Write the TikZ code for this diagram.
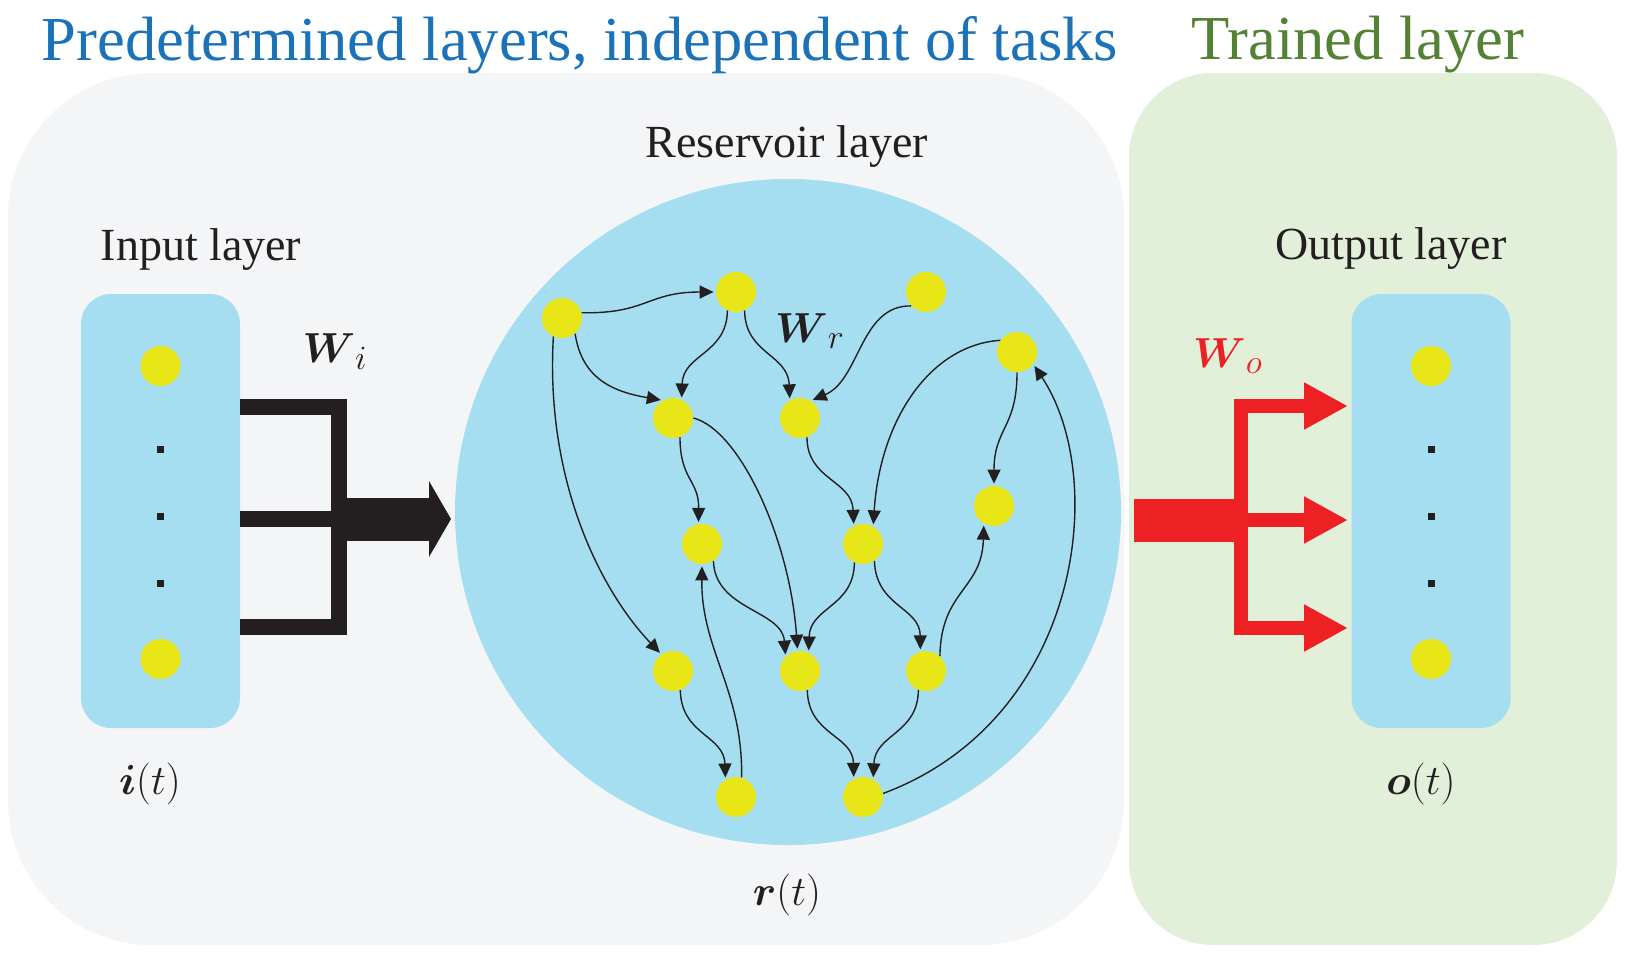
\RequirePackage{fix-cm}
\documentclass[tikz,border=0pt]{standalone}
\usepackage{amsmath}
\usepackage{fontspec}
\setmainfont{Liberation Serif}
\usetikzlibrary{arrows.meta}
\DeclareMathSizes{21}{21}{17}{12}

\definecolor{panelgray}{HTML}{F4F5F7}
\definecolor{panelgreen}{HTML}{E2EFD9}
\definecolor{layerblue}{HTML}{A6DEF1}
\definecolor{unityellow}{HTML}{E8E617}
\definecolor{titleblue}{HTML}{1B72B9}
\definecolor{titlegreen}{HTML}{548235}
\definecolor{wred}{HTML}{ED2024}
\definecolor{wblack}{HTML}{231F20}

\begin{document}
\begin{tikzpicture}[x=0.5pt,y=-0.5pt,
  unit/.style={circle,fill=unityellow,inner sep=0pt,minimum size=20pt},
  dotmark/.style={rectangle,fill=wblack,inner sep=0pt,minimum size=3.5pt},
  layerbox/.style={rectangle,rounded corners=15pt,fill=layerblue,inner sep=0pt,minimum width=79.5pt,minimum height=217pt},
  titlename/.style={anchor=base,font=\fontsize{31.3}{36}\selectfont},
  layername/.style={anchor=base,font=\fontsize{23}{27}\selectfont,text=wblack},
  vecname/.style={anchor=base,font=\fontsize{21}{25}\selectfont,text=wblack},
  link/.style={draw=wblack,line width=0.7pt,-{Triangle[length=7pt,width=6.5pt]},shorten >=1pt},
  ibar/.style={draw=wblack,line width=8pt},
  ishaft/.style={draw=wblack,line width=21.5pt,-{Triangle[length=11pt,width=37.5pt]}},
  oshaft/.style={draw=wred,line width=21.5pt},
  obranch/.style={draw=wred,line width=7pt,-{Triangle[length=22pt,width=22pt]}}]

\useasboundingbox (0,0) rectangle (1627,964) ;

\fill[panelgray,rounded corners=72pt] (8,73) rectangle (1124,945) ;
\fill[panelgreen,rounded corners=42pt] (1129,73) rectangle (1617,945) ;

\node[titlename,text=titleblue] (title_fixed) at (580,60) {Predetermined layers, independent of tasks} ;
\node[titlename,text=titlegreen] (title_trained) at (1358,59) {Trained layer} ;

\node[layername] (name_in) at (201,260) {Input layer} ;
\node[layername] (name_res) at (787,157) {Reservoir layer} ;
\node[layername] (name_out) at (1391,259) {Output layer} ;

\node[layerbox] (inbox) at (160.5,511) {} ;
\node[unit] (in_1) at (160.5,366) {} ;
\node[dotmark] (in_dot1) at (160.5,449) {} ;
\node[dotmark] (in_dot2) at (160.5,516) {} ;
\node[dotmark] (in_dot3) at (160.5,583) {} ;
\node[unit] (in_2) at (160.5,659) {} ;

\node[layerbox] (outbox) at (1431,511) {} ;
\node[unit] (out_1) at (1431,366) {} ;
\node[dotmark] (out_dot1) at (1431,449) {} ;
\node[dotmark] (out_dot2) at (1431,516) {} ;
\node[dotmark] (out_dot3) at (1431,583) {} ;
\node[unit] (out_2) at (1431,659) {} ;

\node[circle,fill=layerblue,inner sep=0pt,minimum size=333pt] (res) at (788,512) {} ;

\node[unit] (u1) at (562,318) {} ;
\node[unit] (u2) at (736,292) {} ;
\node[unit] (u3) at (926,292) {} ;
\node[unit] (u4) at (1017,352) {} ;
\node[unit] (u5) at (673,418) {} ;
\node[unit] (u6) at (800,418) {} ;
\node[unit] (u7) at (994,506) {} ;
\node[unit] (u8) at (702,544) {} ;
\node[unit] (u9) at (863,544) {} ;
\node[unit] (u10) at (673,671) {} ;
\node[unit] (u11) at (800,671) {} ;
\node[unit] (u12) at (926,671) {} ;
\node[unit] (u13) at (736,797) {} ;
\node[unit] (u14) at (863,797) {} ;

\draw[link] (u1.15) .. controls (647,314) and (647,292) .. (u2.180) ;
\draw[link] (u1.310) .. controls (582,380) and (615,392) .. (u5.120) ;
\draw[link] (u1.245) .. controls (545,480) and (600,590) .. (u10.125) ;
\draw[link] (u2.245) .. controls (727,354) and (683,354) .. (u5.65) ;
\draw[link] (u2.295) .. controls (745,354) and (788,354) .. (u6.120) ;
\draw[link] (u3.223) .. controls (860,305) and (860,380) .. (u6.58) ;
\draw[link] (u4.145) .. controls (930,345) and (880,420) .. (u9.60) ;
\draw[link] (u4.270) .. controls (1017,428) and (994,428) .. (u7.90) ;
\draw[link] (u5.290) .. controls (680,480) and (699,480) .. (u8.100) ;
\draw[link] (u5.0) .. controls (740,430) and (790,540) .. (u11.97) ;
\draw[link] (u6.290) .. controls (807,480) and (852,480) .. (u9.117) ;
\draw[link] (u8.304) .. controls (715,610) and (782,610) .. (u11.135) ;
\draw[link] (u9.245) .. controls (854,607) and (810,607) .. (u11.65) ;
\draw[link] (u9.304) .. controls (876,607) and (920,607) .. (u12.106) ;
\draw[link] (u12.47) .. controls (941,590) and (982,590) .. (u7.240) ;
\draw[link] (u10.291) .. controls (681,735) and (724,735) .. (u13.121) ;
\draw[link] (u13.74) .. controls (743,690) and (701,650) .. (u8.270) ;
\draw[link] (u11.291) .. controls (808,735) and (853,735) .. (u14.117) ;
\draw[link] (u12.248) .. controls (918,734) and (875,734) .. (u14.60) ;
\draw[link] (u14.10) .. controls (1080,720) and (1110,480) .. (u4.323) ;

\coordinate (wi_top) at (240,407) ;
\coordinate (wi_mid) at (240,519) ;
\coordinate (wi_bot) at (240,627) ;
\coordinate (wi_join) at (338.5,519) ;
\coordinate (wi_tip) at (451,519) ;

\draw[ibar] (wi_top) -| (wi_join) |- (wi_bot) ;
\draw[ibar] (wi_mid) -- (wi_join) ;
\draw[ishaft] (wi_join) -- (wi_tip) ;

\coordinate (wo_start) at (1134,520) ;
\coordinate (wo_fork) at (1241,520) ;
\coordinate (wo_a) at (1348,406) ;
\coordinate (wo_b) at (1348,520) ;
\coordinate (wo_c) at (1348,628) ;

\draw[oshaft] (wo_start) -- (wo_fork) ;
\draw[obranch] (wo_fork) |- (wo_a) ;
\draw[obranch] (wo_fork) -- (wo_b) ;
\draw[obranch] (wo_fork) |- (wo_c) ;

\node[vecname] (w_in) at (335,362) {$\boldsymbol{W}_{i}$} ;
\node[vecname] (w_res) at (810,342) {$\boldsymbol{W}_{r}$} ;
\node[vecname,text=wred] (w_out) at (1228,367) {$\boldsymbol{W}_{o}$} ;

\node[vecname] (vec_in) at (150,794) {$\boldsymbol{i}(t)$} ;
\node[vecname] (vec_res) at (787,905) {$\boldsymbol{r}(t)$} ;
\node[vecname] (vec_out) at (1421,794) {$\boldsymbol{o}(t)$} ;

\end{tikzpicture}
\end{document}
